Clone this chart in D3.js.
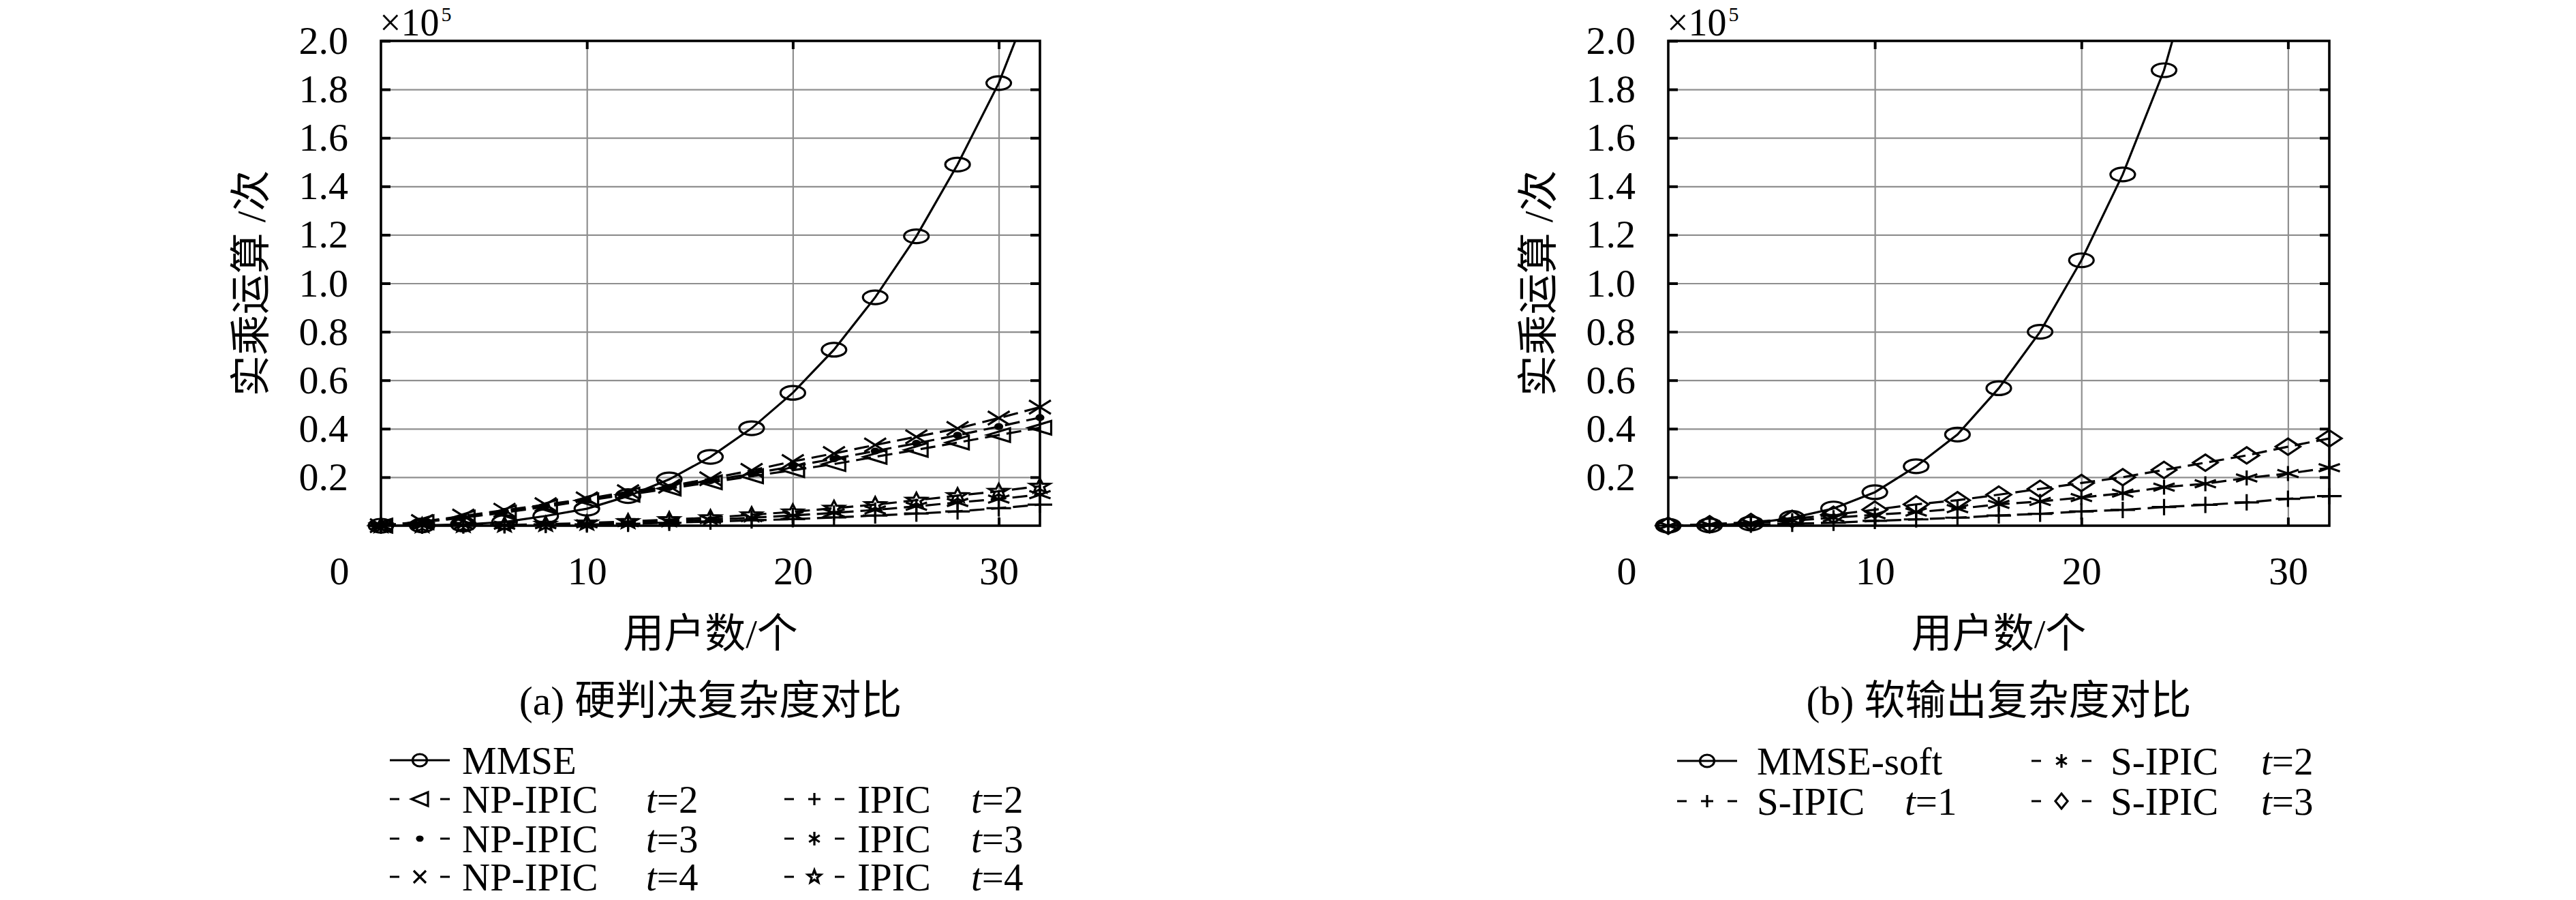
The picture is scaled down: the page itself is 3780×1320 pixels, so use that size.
<!DOCTYPE html>
<html><head><meta charset="utf-8">
<script src="https://cdn.jsdelivr.net/npm/d3@7"></script>
<style>body{margin:0;background:#fff}svg{display:block}</style>
</head><body>
<svg id="chart" width="3780" height="1320"></svg>
<script>
// ---------- data ----------
const users = [0,2,4,6,8,10,12,14,16,18,20,22,24,26,28,30,32];
const xTickValues = [10,20,30];
const yTickValues = [20000,40000,60000,80000,100000,120000,140000,160000,180000,200000];
const yTickLabels = ["0.2","0.4","0.6","0.8","1.0","1.2","1.4","1.6","1.8","2.0"];

// (a) hard decision
const mmseHard = [0,100,500,1500,4000,7000,12200,19100,28400,40200,54800,72600,94200,119400,149000,182600,226000];
const npIpicT2 = [0,1400,3300,5400,7800,10400,12800,15300,17900,20400,22900,25400,28400,31300,34300,37400,40400];
const npIpicT3 = [0,1500,3600,5900,8200,10800,13400,15800,18600,21400,24500,27600,30800,34000,37300,40900,44600];
const npIpicT4 = [0,1700,4000,6400,8700,11100,14000,16300,19400,22800,26500,29800,33300,36700,40100,44400,48900];
const ipicT2 = [0,20,80,160,300,500,800,1200,1700,2200,2700,3400,4200,5000,5900,7200,8700];
const ipicT3 = [0,30,110,230,450,800,1250,1850,2500,3300,4200,5300,6500,8000,9600,11000,12800];
const ipicT4 = [0,40,140,300,600,1100,1700,2500,3300,4500,5700,7200,8700,10500,12400,14200,16300];

// (b) soft output
const mmseSoft = [0,100,900,3200,7100,13800,24500,37600,56700,80000,109500,144900,187900,248000];
const sIpicT1 = [0,200,400,800,1200,2000,2600,3300,4200,4900,5900,6500,7700,8600,9600,11100,12200];
const sIpicT2 = [0,400,1100,2100,3300,4500,5600,7000,8800,10000,11600,13400,15900,17300,19700,21500,23900];
const sIpicT3 = [0,600,1500,2800,4500,6600,8800,10500,12800,15200,17600,20000,23000,26000,29000,32600,36000];

const seriesA = [
  {name:"MMSE", t:null, vals:mmseHard, mark:"circle", dashed:false},
  {name:"NP-IPIC", t:"2", vals:npIpicT2, mark:"triL", dashed:true},
  {name:"NP-IPIC", t:"3", vals:npIpicT3, mark:"dot", dashed:true},
  {name:"NP-IPIC", t:"4", vals:npIpicT4, mark:"x", dashed:true},
  {name:"IPIC", t:"2", vals:ipicT2, mark:"plus", dashed:true},
  {name:"IPIC", t:"3", vals:ipicT3, mark:"aster", dashed:true},
  {name:"IPIC", t:"4", vals:ipicT4, mark:"star", dashed:true}
];
const seriesB = [
  {name:"MMSE-soft", t:null, vals:mmseSoft, mark:"circle", dashed:false},
  {name:"S-IPIC", t:"1", vals:sIpicT1, mark:"plus", dashed:true},
  {name:"S-IPIC", t:"2", vals:sIpicT2, mark:"aster", dashed:true},
  {name:"S-IPIC", t:"3", vals:sIpicT3, mark:"diamond", dashed:true}
];

// ---------- drawing ----------
const svg = d3.select("#chart");
const LAT = "'Liberation Serif','Noto Sans CJK SC',serif";
const CJK = "'Liberation Serif','Noto Sans CJK SC',sans-serif";
const TICK_FS = 58, LEG_FS = 57;

const plotSize = {circle:[18,10], triL:[16.5,10], dot:[5,3.5], x:[16,10], plus:[18,12], aster:[18,11], star:[15,11], diamond:[18,12]};
const legSize  = {circle:[10.5,9], triL:[12,10], dot:[4,3], x:[9,9], plus:[9,9], aster:[9,10], star:[10,10], diamond:[9,11]};

function markPath(type, sx, sy){
  if(type==="circle"||type==="dot")
    return `M${-sx},0A${sx},${sy} 0 1,0 ${sx},0A${sx},${sy} 0 1,0 ${-sx},0Z`;
  if(type==="triL") return `M${-sx},0L${sx},${-sy}L${sx},${sy}Z`;
  if(type==="x") return `M${-sx},${-sy}L${sx},${sy}M${-sx},${sy}L${sx},${-sy}`;
  if(type==="plus") return `M${-sx},0L${sx},0M0,${-sy}L0,${sy}`;
  if(type==="diamond") return `M0,${-sy}L${sx},0L0,${sy}L${-sx},0Z`;
  if(type==="aster"){
    let d="";
    [90,30,150].forEach(a=>{const r=a*Math.PI/180;const c=Math.cos(r),s=Math.sin(r);
      d+=`M${-c*sx},${-s*sy}L${c*sx},${s*sy}`;});
    return d;
  }
  if(type==="star"){
    const pts=[];
    for(let i=0;i<10;i++){const r=(i%2===0)?1:0.42;const a=(-90+i*36)*Math.PI/180;
      pts.push([Math.cos(a)*r*sx, Math.sin(a)*r*sy]);}
    return "M"+pts.map(p=>p[0].toFixed(2)+","+p[1].toFixed(2)).join("L")+"Z";
  }
  return "";
}
function drawMark(g, type, cx, cy, size){
  const [sx,sy]=size[type];
  g.append("path").attr("d",markPath(type,sx,sy))
    .attr("transform",`translate(${cx},${cy})`)
    .attr("fill", type==="dot"?"#000":"none")
    .attr("stroke","#000").attr("stroke-width",3.2).attr("stroke-linejoin","miter");
}

function panel(id, left, right, top, bottom, series, caption, legendCfg){
  const x = d3.scaleLinear().domain([0,32]).range([left,right]);
  const y = d3.scaleLinear().domain([0,200000]).range([bottom,top]);
  const g = svg.append("g");

  // grid
  g.append("g").attr("transform",`translate(0,${bottom})`)
    .call(d3.axisBottom(x).tickValues(xTickValues).tickSize(-(bottom-top)).tickFormat(""))
    .call(s=>{s.select(".domain").remove(); s.selectAll("line").attr("stroke","#8f8f8f").attr("stroke-width",2.2);});
  g.append("g").attr("transform",`translate(${left},0)`)
    .call(d3.axisLeft(y).tickValues(yTickValues.slice(0,9)).tickSize(-(right-left)).tickFormat(""))
    .call(s=>{s.select(".domain").remove(); s.selectAll("line").attr("stroke","#8f8f8f").attr("stroke-width",2.2);});

  // ticks + labels
  const axStyle = s=>{s.select(".domain").remove(); s.selectAll("line").attr("stroke","#000").attr("stroke-width",4);
    s.selectAll("text").attr("font-family",LAT).attr("font-size",TICK_FS).attr("fill","#000");};
  g.append("g").attr("transform",`translate(0,${bottom})`)
    .call(d3.axisBottom(x).tickValues(xTickValues).tickSize(-12).tickPadding(45).tickFormat(d3.format("d"))).call(axStyle);
  g.append("g").attr("transform",`translate(0,${top})`)
    .call(d3.axisTop(x).tickValues(xTickValues).tickSize(-12).tickFormat("")).call(axStyle);
  g.append("g").attr("transform",`translate(${left},0)`)
    .call(d3.axisLeft(y).tickValues(yTickValues).tickSize(-14).tickPadding(48).tickFormat((d,i)=>yTickLabels[i])).call(axStyle);
  g.append("g").attr("transform",`translate(${right},0)`)
    .call(d3.axisRight(y).tickValues(yTickValues.slice(0,9)).tickSize(-14).tickFormat("")).call(axStyle);

  // frame
  g.append("rect").attr("x",left).attr("y",top).attr("width",right-left).attr("height",bottom-top)
    .attr("fill","none").attr("stroke","#000").attr("stroke-width",3.6);

  // corner zero label
  g.append("text").attr("x",x(0)-61).attr("y",bottom+86).attr("text-anchor","middle")
    .attr("font-family",LAT).attr("font-size",TICK_FS).text("0");

  // x10^5
  const ex = g.append("text").attr("x",left-2).attr("y",top-8).attr("font-family",LAT).attr("font-size",56);
  ex.append("tspan").text("×10");
  ex.append("tspan").attr("font-size",30).attr("dy",-21).attr("dx",3).text("5");

  // axis titles
  g.append("text").attr("transform",`translate(${left-190},${(top+bottom)/2}) rotate(-90)`)
    .attr("text-anchor","middle").attr("dominant-baseline","central")
    .attr("font-family",CJK).attr("font-size",60).text("实乘运算 /次");
  g.append("text").attr("x",(left+right)/2).attr("y",930).attr("text-anchor","middle").attr("dominant-baseline","central")
    .attr("font-family",CJK).attr("font-size",60).text("用户数/个");
  g.append("text").attr("x",(left+right)/2).attr("y",1028).attr("text-anchor","middle").attr("dominant-baseline","central")
    .attr("font-family",CJK).attr("font-size",60).text(caption);

  // lines
  const clipId = "clip"+id;
  svg.append("clipPath").attr("id",clipId).append("rect")
    .attr("x",left).attr("y",top).attr("width",right-left).attr("height",bottom-top);
  const line = d3.line().x(d=>x(d[0])).y(d=>y(d[1]));
  const lg = g.append("g").attr("clip-path",`url(#${clipId})`);
  const mg = g.append("g");
  series.forEach(s=>{
    const pts = s.vals.map((v,i)=>[users[i],v]);
    lg.append("path").attr("d",line(pts)).attr("fill","none").attr("stroke","#000").attr("stroke-width",3.2)
      .attr("stroke-dasharray", s.dashed?"22,10":null);
    pts.filter(p=>p[1]<=200000).forEach(p=>drawMark(mg,s.mark,x(p[0]),y(p[1]),plotSize));
  });

  // legend
  legendCfg.items.forEach(it=>{
    const s = series[it.idx];
    const x0 = legendCfg.cols[it.col].sample, cy = legendCfg.rows[it.row]-20;
    g.append("path").attr("d",`M${x0},${cy}L${x0+88},${cy}`).attr("stroke","#000").attr("stroke-width",3.2)
      .attr("stroke-dasharray", s.dashed?"14,60":null);
    drawMark(g, s.mark, x0+44, cy, legSize);
    g.append("text").attr("x",legendCfg.cols[it.col].text).attr("y",legendCfg.rows[it.row])
      .attr("font-family",LAT).attr("font-size",LEG_FS).text(s.name);
    if(s.t){
      const t = g.append("text").attr("x",legendCfg.cols[it.col].t).attr("y",legendCfg.rows[it.row])
        .attr("font-family",LAT).attr("font-size",LEG_FS);
      t.append("tspan").attr("font-style","italic").text("t");
      t.append("tspan").text("="+s.t);
    }
  });
}

panel("A", 559, 1526, 60, 771, seriesA, "(a) 硬判决复杂度对比", {
  cols:[{sample:572,text:678,t:948},{sample:1151,text:1258,t:1425}],
  rows:[1135,1192,1250,1306],
  items:[{idx:0,col:0,row:0},{idx:1,col:0,row:1},{idx:2,col:0,row:2},{idx:3,col:0,row:3},
         {idx:4,col:1,row:1},{idx:5,col:1,row:2},{idx:6,col:1,row:3}]
});
panel("B", 2448, 3418, 60, 771, seriesB, "(b) 软输出复杂度对比", {
  cols:[{sample:2461,text:2578,t:2795},{sample:2981,text:3097,t:3318}],
  rows:[1136,1195],
  items:[{idx:0,col:0,row:0},{idx:1,col:0,row:1},{idx:2,col:1,row:0},{idx:3,col:1,row:1}]
});
</script>
</body></html>
